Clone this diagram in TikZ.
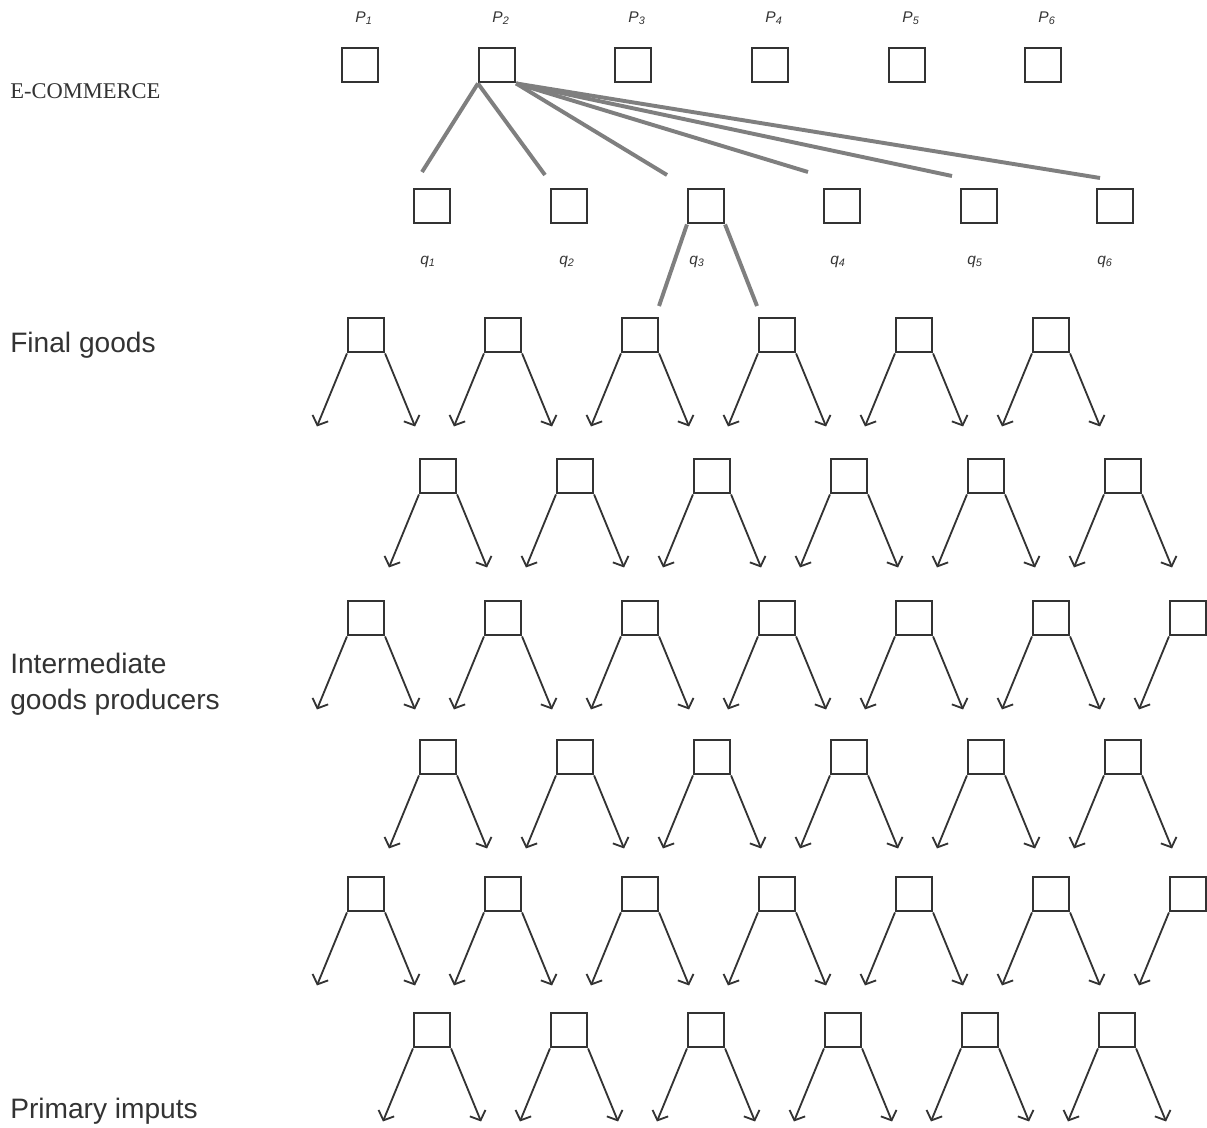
\documentclass[tikz,border=0pt]{standalone}
\usepackage{fontspec}
\setmainfont{Liberation Serif}
\setsansfont{Liberation Sans}
\usetikzlibrary{arrows.meta, positioning, calc}
\definecolor{linkgrey}{HTML}{7F7F7F}
\definecolor{inkgrey}{HTML}{333333}
\tikzset{
    cell/.style={rectangle, draw=inkgrey, line width=1.5pt, minimum width=0.9cm, minimum height=0.87cm, inner sep=0pt},
    flow/.style={line width=1.3pt, draw=inkgrey, -{Straight Barb[length=5.5pt, width=12pt]}},
    link/.style={line width=2.8pt, draw=linkgrey},
    level/.style={font=\sffamily\fontsize{20}{25}\selectfont, text=inkgrey, anchor=base west, inner sep=0pt, align=left},
    price/.style={font=\sffamily\itshape\fontsize{11}{13}\selectfont, text=inkgrey, inner sep=0pt}
}

\begin{document}
\begin{tikzpicture}[x=0.025cm, y=-0.025cm]
    \useasboundingbox (0,0) rectangle (1207,1128);

    % left labels
    \node (ecom) [level, font=\rmfamily\fontsize{16}{19}\selectfont] at (10,99) {E-COMMERCE};
    \node (final) [level] at (10,352) {Final goods};
    \node (inter) [level] at (10,709) {Intermediate\\goods producers};
    \node (prim) [level] at (10,1118) {Primary imputs};

    % prices and quantities
    \foreach \i/\x in {1/360, 2/497, 3/633, 4/770, 5/907, 6/1043} {
        \node (p\i) [cell] at (\x,65) {};
        \node (lp\i) [price] at (\x+4,18) {P\textsubscript{\i}};
    }
    \foreach \i/\x/\lx in {1/432/428, 2/569/567, 3/706/697, 4/842/838, 5/979/975, 6/1115/1105} {
        \node (q\i) [cell] at (\x,206) {};
        \node (lq\i) [price] at (\lx,262) {q\textsubscript{\i}};
    }

    % e-commerce links
    \coordinate (e1) at (422,172);
    \coordinate (e2) at (545,175);
    \coordinate (e3) at (667,175);
    \coordinate (e4) at (808,172);
    \coordinate (e5) at (952,176);
    \coordinate (e6) at (1100,178);
    \draw [link] (p2.south west) -- (e1);
    \draw [link] (p2.south west) -- (e2);
    \foreach \i in {3,...,6}
        \draw [link] (p2.south east) -- (e\i);
    \coordinate (d1) at (659,306);
    \coordinate (d2) at (757,306);
    \draw [link] (q3.south west) -- (d1);
    \draw [link] (q3.south east) -- (d2);

    % production rows
    \foreach \row/\y/\x/\n in {1/335/366/6, 2/476/438/6, 3/618/366/7, 4/757/438/6, 5/894/366/7, 6/1030/432/6} {
        \foreach \k in {1,...,\n} {
            \node (b\row-\k) [cell] at ({\x+137*(\k-1)},\y) {};
            \coordinate (bl\row-\k) at ([shift={(-30,73)}]b\row-\k.south west);
            \draw [flow] (b\row-\k.south west) -- (bl\row-\k);
            \ifnum\k<7
                \coordinate (br\row-\k) at ([shift={(30,73)}]b\row-\k.south east);
                \draw [flow] (b\row-\k.south east) -- (br\row-\k);
            \fi
        }
    }
\end{tikzpicture}
\end{document}
